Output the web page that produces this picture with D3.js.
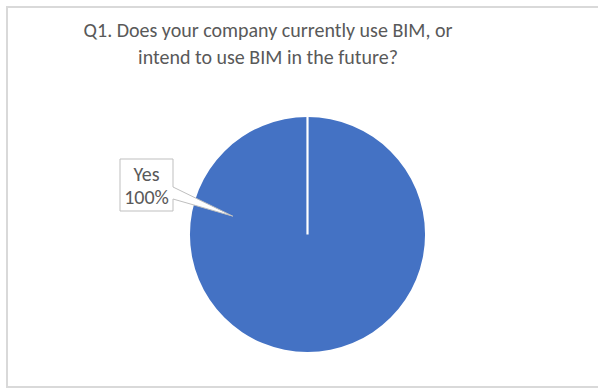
<!DOCTYPE html>
<html>
<head>
<meta charset="utf-8">
<script src="https://cdn.jsdelivr.net/npm/d3@7"></script>
<style>
  html, body { margin: 0; padding: 0; background: #fff; }
  svg { display: block; }
</style>
</head>
<body>
<div id="chart"></div>
<script>
// Survey answers for Q1
const categories = ["Yes"];
const values = [100];
const labels = ["100%"];
const titleLines = ["Q1. Does your company currently use BIM, or", "intend to use BIM in the future?"];

const W = 598, H = 389;
const svg = d3.select("#chart").append("svg").attr("width", W).attr("height", H);

// chart area frame
svg.append("rect")
  .attr("x", 7).attr("y", 7).attr("width", W + 20).attr("height", H - 9)
  .attr("fill", "#fff").attr("stroke", "#d9d9d9").attr("stroke-width", 2);

// title
const title = svg.append("text")
  .attr("text-anchor", "middle")
  .attr("fill", "#595959")
  .style("font-family", "Carlito, Lato, 'Open Sans', sans-serif")
  .style("font-size", "20px");
titleLines.forEach((t, i) => {
  title.append("tspan").attr("x", 268).attr("y", 37 + i * 27).text(t);
});

// pie
const cx = 307.5, cy = 234.5, r = 117.5;
const color = d3.scaleOrdinal().domain(categories).range(["#4472C4"]);
const pie = d3.pie().sort(null).value(d => d.value);
const arcs = pie(categories.map((c, i) => ({ cat: c, value: values[i], label: labels[i] })));
const arc = d3.arc().innerRadius(0).outerRadius(r);

const g = svg.append("g").attr("transform", `translate(${cx},${cy})`);
g.selectAll("path.slice").data(arcs).join("path")
  .attr("class", "slice")
  .attr("d", arc)
  .attr("fill", d => color(d.data.cat));

// slice border at the start angle
arcs.forEach(a => {
  const p = d3.pointRadial(a.startAngle, r);
  g.append("line")
    .attr("x1", 0).attr("y1", 0).attr("x2", p[0]).attr("y2", p[1])
    .attr("stroke", "#fff").attr("stroke-width", 2.2);
});

// data label callout
const box = { x: 120, y: 159, w: 53, h: 52 };
const tip = d3.pointRadial(-1.33, 77).map((v, i) => v + (i ? cy : cx));
const calloutPath = [
  [box.x, box.y], [box.x + box.w, box.y], [box.x + box.w, 187],
  tip, [box.x + box.w, 199], [box.x + box.w, box.y + box.h], [box.x, box.y + box.h]
];
svg.append("path")
  .attr("d", d3.line()(calloutPath) + "Z")
  .attr("fill", "#fff").attr("stroke", "#bfbfbf").attr("stroke-width", 1);

const lbl = svg.append("text")
  .attr("text-anchor", "middle")
  .attr("fill", "#595959")
  .style("font-family", "Carlito, Lato, 'Open Sans', sans-serif")
  .style("font-size", "20px");
arcs.forEach(a => {
  lbl.append("tspan").attr("x", box.x + box.w / 2).attr("y", 181).text(a.data.cat);
  lbl.append("tspan").attr("x", box.x + box.w / 2).attr("y", 204).text(a.data.label);
});
</script>
</body>
</html>
